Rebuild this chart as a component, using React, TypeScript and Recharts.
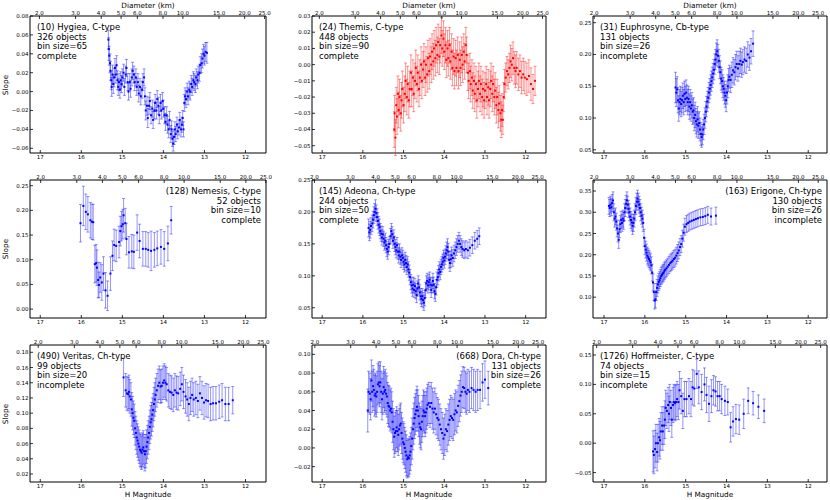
import React from 'react';
import { ScatterChart, Scatter, XAxis, YAxis, ErrorBar, ReferenceArea } from 'recharts';

// [H magnitude, slope, error]
type Pt = [number, number, number];

const H_TICKS = [17, 16, 15, 14, 13, 12];
const DIAMETER_TICKS = [2, 3, 4, 5, 6, 8, 10, 15, 20, 25];

const HYGIEA_TICKS = [-0.06, -0.04, -0.02, 0, 0.02, 0.04, 0.06, 0.08];
const THEMIS_TICKS = [-0.05, -0.04, -0.03, -0.02, -0.01, 0, 0.01, 0.02, 0.03];
const EUPHROSYNE_TICKS = [0.05, 0.1, 0.15, 0.2, 0.25];
const NEMESIS_TICKS = [0, 0.05, 0.1, 0.15, 0.2, 0.25];
const ADEONA_TICKS = [0.05, 0.1, 0.15, 0.2, 0.25];
const ERIGONE_TICKS = [0.1, 0.15, 0.2, 0.25, 0.3, 0.35];
const VERITAS_TICKS = [0.02, 0.04, 0.06, 0.08, 0.1, 0.12, 0.14, 0.16, 0.18];
const DORA_TICKS = [-0.02, 0, 0.02, 0.04, 0.06, 0.08, 0.1];
const HOFFMEISTER_TICKS = [-0.05, 0, 0.05, 0.1, 0.15];

const hygiea: Pt[] = [
  [15.34,0.055,0.01],[15.33,0.045,0.012],[15.32,0.038,0.01],[15.30,0.030,0.01],[15.29,0.022,0.01],[15.27,0.012,0.01],
  [15.26,0.005,0.01],[15.24,0.018,0.01],[15.22,0.008,0.01],[15.20,0.015,0.01],[15.18,0.025,0.01],[15.16,0.018,0.009],
  [15.14,0.028,0.01],[15.12,0.012,0.01],[15.10,0.005,0.009],[15.08,0.010,0.009],[15.06,0.002,0.009],[15.04,0.012,0.009],
  [15.02,0.008,0.009],[15.00,0.015,0.009],[14.97,0.020,0.009],[14.95,0.005,0.009],[14.92,0.018,0.009],[14.90,0.025,0.009],
  [14.87,0.010,0.009],[14.85,0.000,0.009],[14.82,0.010,0.009],[14.80,0.003,0.009],[14.77,0.015,0.009],[14.75,0.022,0.009],
  [14.72,0.018,0.009],[14.70,0.010,0.009],[14.67,0.015,0.009],[14.65,0.005,0.009],[14.62,0.010,0.009],[14.60,-0.002,0.009],
  [14.57,0.005,0.009],[14.55,-0.005,0.009],[14.52,0.002,0.009],[14.50,0.010,0.009],[14.47,0.015,0.009],[14.45,-0.005,0.009],
  [14.43,-0.020,0.01],[14.40,-0.015,0.01],[14.38,-0.028,0.01],[14.35,-0.015,0.009],[14.33,-0.010,0.009],[14.30,-0.025,0.009],
  [14.27,-0.018,0.009],[14.25,-0.030,0.009],[14.22,-0.020,0.009],[14.20,-0.012,0.009],[14.17,-0.020,0.009],[14.15,-0.008,0.009],
  [14.12,-0.015,0.009],[14.10,-0.025,0.009],[14.07,-0.012,0.009],[14.05,-0.020,0.009],[14.02,-0.010,0.009],[14.00,-0.018,0.009],
  [13.97,-0.025,0.009],[13.95,-0.032,0.009],[13.92,-0.025,0.009],[13.90,-0.035,0.009],[13.87,-0.040,0.009],[13.85,-0.030,0.009],
  [13.82,-0.045,0.009],[13.80,-0.040,0.009],[13.78,-0.050,0.008],[13.76,-0.055,0.008],[13.74,-0.048,0.008],[13.72,-0.040,0.008],
  [13.70,-0.045,0.008],[13.67,-0.035,0.008],[13.65,-0.042,0.008],[13.62,-0.038,0.008],[13.60,-0.030,0.008],[13.57,-0.040,0.008],
  [13.55,-0.035,0.008],[13.53,-0.028,0.008],[13.51,-0.040,0.008],[13.49,-0.012,0.009],[13.47,-0.005,0.009],[13.45,-0.008,0.009],
  [13.42,0.000,0.009],[13.40,-0.005,0.009],[13.37,0.002,0.009],[13.35,0.000,0.009],[13.32,0.008,0.009],[13.30,0.005,0.009],
  [13.27,0.012,0.009],[13.25,0.010,0.009],[13.22,0.008,0.009],[13.20,0.015,0.009],[13.17,0.012,0.009],[13.15,0.018,0.009],
  [13.12,0.020,0.009],[13.10,0.028,0.009],[13.07,0.030,0.01],[13.05,0.035,0.01],[13.02,0.040,0.01],[13.00,0.038,0.01],
  [12.97,0.042,0.01],[12.94,0.041,0.011],
];

const themis: Pt[] = [
  [15.23,-0.040,0.011],[15.22,-0.030,0.011],[15.20,-0.045,0.011],[15.18,-0.025,0.011],[15.16,-0.032,0.011],[15.14,-0.018,0.011],
  [15.12,-0.028,0.011],[15.10,-0.020,0.011],[15.07,-0.030,0.011],[15.05,-0.022,0.011],[15.03,-0.015,0.011],[15.00,-0.025,0.011],
  [14.97,-0.018,0.011],[14.95,-0.010,0.011],[14.92,-0.020,0.011],[14.90,-0.012,0.011],[14.87,-0.022,0.011],[14.85,-0.015,0.011],
  [14.82,-0.005,0.011],[14.80,-0.015,0.011],[14.77,-0.008,0.011],[14.75,-0.018,0.011],[14.72,-0.010,0.011],[14.70,-0.002,0.011],
  [14.67,-0.012,0.011],[14.65,-0.005,0.011],[14.62,-0.015,0.011],[14.60,-0.008,0.011],[14.57,0.000,0.011],[14.55,-0.010,0.011],
  [14.52,-0.003,0.011],[14.50,0.002,0.011],[14.47,-0.008,0.011],[14.45,0.000,0.011],[14.42,-0.006,0.011],[14.40,0.004,0.011],
  [14.37,-0.004,0.011],[14.35,0.005,0.011],[14.32,0.000,0.011],[14.30,0.008,0.011],[14.27,0.002,0.011],[14.25,0.010,0.011],
  [14.22,0.004,0.011],[14.20,0.012,0.011],[14.17,0.006,0.011],[14.15,0.014,0.011],[14.12,0.005,0.011],[14.10,0.012,0.011],
  [14.07,0.018,0.011],[14.05,0.010,0.011],[14.02,0.016,0.011],[14.00,0.008,0.011],[13.97,0.012,0.011],[13.95,0.003,0.011],
  [13.92,0.010,0.011],[13.90,0.004,0.011],[13.87,0.012,0.011],[13.85,0.002,0.011],[13.82,0.008,0.011],[13.80,-0.002,0.011],
  [13.77,0.005,0.011],[13.75,-0.004,0.011],[13.72,0.004,0.011],[13.70,-0.002,0.011],[13.67,0.006,0.011],[13.65,-0.004,0.011],
  [13.62,0.003,0.011],[13.60,-0.002,0.011],[13.57,0.006,0.011],[13.55,0.000,0.011],[13.52,0.008,0.011],[13.50,0.002,0.011],
  [13.47,0.012,0.011],[13.45,0.006,0.011],[13.42,-0.005,0.011],[13.40,-0.010,0.011],[13.37,-0.004,0.011],[13.35,-0.012,0.011],
  [13.32,-0.008,0.011],[13.30,-0.016,0.011],[13.27,-0.010,0.011],[13.25,-0.018,0.011],[13.22,-0.012,0.011],[13.20,-0.022,0.011],
  [13.17,-0.015,0.011],[13.15,-0.010,0.011],[13.12,-0.018,0.011],[13.10,-0.012,0.011],[13.07,-0.020,0.011],[13.05,-0.015,0.011],
  [13.02,-0.022,0.011],[13.00,-0.016,0.011],[12.97,-0.012,0.011],[12.95,-0.020,0.011],[12.92,-0.014,0.011],[12.90,-0.022,0.011],
  [12.87,-0.015,0.011],[12.85,-0.010,0.011],[12.82,-0.018,0.011],[12.80,-0.012,0.011],[12.77,-0.020,0.011],[12.75,-0.016,0.011],
  [12.72,-0.025,0.011],[12.70,-0.020,0.011],[12.67,-0.028,0.011],[12.65,-0.024,0.011],[12.62,-0.030,0.011],[12.60,-0.034,0.011],
  [12.58,-0.028,0.01],[12.56,-0.034,0.009],[12.54,-0.020,0.009],[12.52,-0.012,0.009],[12.49,-0.008,0.009],[12.46,-0.004,0.009],
  [12.43,-0.006,0.009],[12.40,-0.002,0.009],[12.37,0.002,0.01],[12.34,0.000,0.01],[12.31,0.004,0.01],[12.28,-0.002,0.01],
  [12.25,-0.004,0.01],[12.22,-0.002,0.01],[12.18,-0.006,0.01],[12.14,-0.004,0.01],[12.10,-0.008,0.01],[12.06,-0.006,0.01],
  [12.02,-0.008,0.01],[11.97,-0.009,0.01],[11.92,-0.007,0.01],[11.87,-0.012,0.01],[11.82,-0.015,0.009],[11.77,-0.010,0.009],
];

const euphrosyne: Pt[] = [
  [15.25,0.148,0.024],[15.23,0.140,0.022],[15.21,0.145,0.02],[15.19,0.128,0.02],[15.17,0.115,0.02],[15.15,0.125,0.02],
  [15.13,0.130,0.02],[15.11,0.122,0.02],[15.09,0.128,0.02],[15.07,0.135,0.02],[15.05,0.125,0.02],[15.03,0.138,0.02],
  [15.01,0.130,0.02],[14.99,0.140,0.02],[14.97,0.132,0.02],[14.95,0.125,0.02],[14.93,0.130,0.02],[14.91,0.118,0.02],
  [14.89,0.125,0.02],[14.87,0.115,0.02],[14.85,0.120,0.02],[14.83,0.110,0.02],[14.81,0.112,0.02],[14.79,0.100,0.02],
  [14.77,0.105,0.02],[14.75,0.095,0.02],[14.73,0.090,0.02],[14.71,0.098,0.02],[14.69,0.088,0.02],[14.67,0.092,0.018],
  [14.65,0.082,0.018],[14.63,0.075,0.018],[14.61,0.070,0.016],[14.59,0.074,0.016],[14.57,0.082,0.016],[14.55,0.090,0.016],
  [14.53,0.100,0.016],[14.51,0.110,0.016],[14.49,0.118,0.016],[14.47,0.126,0.016],[14.45,0.132,0.016],[14.43,0.140,0.016],
  [14.41,0.146,0.016],[14.39,0.152,0.016],[14.37,0.158,0.016],[14.35,0.164,0.016],[14.33,0.170,0.016],[14.31,0.176,0.016],
  [14.29,0.185,0.016],[14.27,0.192,0.016],[14.25,0.200,0.018],[14.23,0.205,0.018],[14.21,0.198,0.018],[14.19,0.190,0.018],
  [14.17,0.180,0.018],[14.15,0.172,0.018],[14.13,0.162,0.018],[14.11,0.158,0.018],[14.09,0.150,0.018],[14.07,0.146,0.018],
  [14.05,0.140,0.018],[14.03,0.135,0.018],[14.01,0.128,0.018],[13.99,0.140,0.018],[13.97,0.150,0.018],[13.95,0.160,0.018],
  [13.93,0.165,0.018],[13.90,0.160,0.02],[13.87,0.168,0.02],[13.84,0.175,0.02],[13.81,0.172,0.02],[13.78,0.180,0.02],
  [13.75,0.185,0.02],[13.72,0.178,0.02],[13.69,0.185,0.02],[13.66,0.190,0.02],[13.63,0.184,0.02],[13.60,0.188,0.02],
  [13.56,0.192,0.02],[13.52,0.190,0.02],[13.48,0.200,0.02],[13.44,0.195,0.02],[13.40,0.205,0.02],[13.35,0.217,0.02],
];

const nemesis: Pt[] = [
  [16.02,0.174,0.038],[15.95,0.209,0.040],[15.89,0.197,0.036],[15.84,0.192,0.036],[15.78,0.180,0.036],[15.74,0.177,0.036],
  [15.71,0.176,0.036],[15.67,0.091,0.038],[15.64,0.093,0.038],[15.62,0.084,0.036],[15.59,0.059,0.036],[15.57,0.049,0.026],
  [15.54,0.064,0.030],[15.50,0.054,0.036],[15.46,0.072,0.034],[15.41,0.038,0.036],[15.36,0.027,0.030],[15.29,0.072,0.034],
  [15.24,0.108,0.030],[15.20,0.130,0.032],[15.15,0.128,0.032],[15.08,0.136,0.032],[15.05,0.158,0.030],[15.02,0.168,0.030],
  [14.99,0.172,0.030],[14.97,0.190,0.034],[14.93,0.174,0.030],[14.90,0.142,0.032],[14.84,0.115,0.032],[14.77,0.117,0.034],
  [14.72,0.116,0.034],[14.64,0.155,0.036],[14.58,0.138,0.034],[14.50,0.122,0.035],[14.43,0.122,0.035],[14.37,0.120,0.035],
  [14.30,0.118,0.040],[14.22,0.120,0.035],[14.15,0.123,0.035],[14.06,0.126,0.035],[13.98,0.122,0.035],[13.89,0.133,0.035],
  [13.81,0.180,0.028],
];

const adeona: Pt[] = [
  [15.86,0.175,0.014],[15.84,0.168,0.013],[15.82,0.172,0.013],[15.80,0.178,0.013],[15.77,0.182,0.013],[15.75,0.188,0.013],
  [15.73,0.195,0.013],[15.71,0.200,0.013],[15.69,0.205,0.014],[15.67,0.198,0.013],[15.65,0.192,0.013],[15.63,0.186,0.013],
  [15.61,0.180,0.013],[15.59,0.176,0.013],[15.57,0.170,0.012],[15.55,0.166,0.012],[15.53,0.160,0.012],[15.51,0.165,0.012],
  [15.49,0.158,0.012],[15.47,0.152,0.012],[15.45,0.155,0.012],[15.43,0.148,0.012],[15.41,0.142,0.012],[15.39,0.138,0.012],
  [15.37,0.145,0.012],[15.35,0.150,0.012],[15.32,0.162,0.012],[15.30,0.170,0.012],[15.28,0.165,0.012],[15.26,0.155,0.012],
  [15.24,0.160,0.012],[15.22,0.150,0.012],[15.20,0.145,0.012],[15.18,0.140,0.012],[15.16,0.148,0.012],[15.14,0.138,0.012],
  [15.12,0.132,0.012],[15.10,0.138,0.012],[15.08,0.130,0.012],[15.06,0.125,0.012],[15.04,0.132,0.012],[15.02,0.128,0.012],
  [15.00,0.122,0.012],[14.98,0.118,0.012],[14.96,0.125,0.012],[14.94,0.120,0.012],[14.92,0.114,0.012],[14.90,0.118,0.012],
  [14.88,0.110,0.012],[14.86,0.105,0.012],[14.84,0.098,0.012],[14.82,0.090,0.012],[14.80,0.085,0.012],[14.78,0.080,0.012],
  [14.76,0.086,0.012],[14.74,0.078,0.012],[14.72,0.084,0.012],[14.70,0.076,0.012],[14.68,0.070,0.012],[14.66,0.080,0.012],
  [14.64,0.088,0.012],[14.62,0.082,0.012],[14.60,0.074,0.012],[14.58,0.068,0.012],[14.56,0.064,0.012],[14.54,0.068,0.012],
  [14.52,0.062,0.012],[14.50,0.058,0.012],[14.48,0.065,0.012],[14.46,0.078,0.012],[14.44,0.088,0.012],[14.42,0.092,0.012],
  [14.40,0.085,0.012],[14.38,0.090,0.012],[14.36,0.094,0.012],[14.34,0.086,0.012],[14.32,0.078,0.012],[14.30,0.085,0.012],
  [14.28,0.092,0.012],[14.26,0.086,0.012],[14.24,0.076,0.012],[14.22,0.072,0.012],[14.20,0.082,0.012],[14.18,0.094,0.012],
  [14.16,0.098,0.012],[14.14,0.104,0.012],[14.12,0.110,0.012],[14.10,0.106,0.012],[14.08,0.114,0.012],[14.06,0.118,0.012],
  [14.04,0.122,0.012],[14.02,0.128,0.012],[14.00,0.124,0.012],[13.98,0.130,0.012],[13.96,0.135,0.012],[13.94,0.140,0.013],
  [13.92,0.145,0.013],[13.90,0.138,0.013],[13.88,0.125,0.013],[13.86,0.120,0.013],[13.84,0.126,0.013],[13.82,0.132,0.013],
  [13.79,0.128,0.013],[13.76,0.135,0.013],[13.73,0.140,0.013],[13.70,0.145,0.013],[13.67,0.150,0.013],[13.64,0.155,0.013],
  [13.61,0.150,0.013],[13.58,0.145,0.013],[13.55,0.142,0.013],[13.51,0.140,0.013],[13.47,0.142,0.013],[13.42,0.140,0.013],
  [13.37,0.144,0.013],[13.31,0.148,0.013],[13.25,0.155,0.013],[13.19,0.158,0.013],[13.14,0.162,0.013],
];

const erigone: Pt[] = [
  [16.88,0.315,0.02],[16.86,0.310,0.02],[16.84,0.318,0.02],[16.82,0.312,0.02],[16.80,0.322,0.02],[16.78,0.328,0.02],
  [16.76,0.300,0.02],[16.74,0.285,0.02],[16.72,0.290,0.02],[16.70,0.278,0.02],[16.68,0.262,0.02],[16.66,0.250,0.02],
  [16.64,0.235,0.02],[16.62,0.260,0.02],[16.60,0.272,0.02],[16.58,0.282,0.02],[16.56,0.275,0.02],[16.54,0.285,0.02],
  [16.52,0.280,0.02],[16.50,0.300,0.02],[16.48,0.310,0.02],[16.46,0.320,0.02],[16.44,0.328,0.02],[16.42,0.318,0.02],
  [16.40,0.308,0.02],[16.38,0.300,0.02],[16.36,0.290,0.02],[16.34,0.282,0.02],[16.32,0.276,0.02],[16.30,0.268,0.02],
  [16.28,0.275,0.02],[16.26,0.285,0.02],[16.24,0.300,0.02],[16.22,0.315,0.02],[16.20,0.325,0.02],[16.18,0.332,0.02],
  [16.16,0.325,0.02],[16.14,0.318,0.02],[16.12,0.310,0.02],[16.10,0.300,0.02],[16.08,0.292,0.02],[16.06,0.285,0.02],
  [16.04,0.275,0.02],[16.02,0.240,0.02],[16.00,0.220,0.02],[15.98,0.212,0.02],[15.96,0.205,0.02],[15.94,0.198,0.02],
  [15.92,0.194,0.02],[15.90,0.190,0.02],[15.88,0.186,0.02],[15.86,0.182,0.02],[15.84,0.175,0.02],[15.82,0.158,0.02],
  [15.80,0.135,0.02],[15.78,0.112,0.02],[15.76,0.092,0.02],[15.74,0.095,0.02],[15.72,0.112,0.02],[15.70,0.122,0.02],
  [15.68,0.130,0.02],[15.66,0.136,0.02],[15.64,0.140,0.02],[15.62,0.145,0.02],[15.60,0.150,0.02],[15.58,0.153,0.02],
  [15.56,0.156,0.02],[15.54,0.158,0.02],[15.52,0.162,0.02],[15.50,0.165,0.02],[15.47,0.168,0.02],[15.44,0.172,0.02],
  [15.41,0.176,0.02],[15.38,0.180,0.02],[15.35,0.183,0.02],[15.32,0.186,0.02],[15.29,0.190,0.02],[15.26,0.193,0.02],
  [15.23,0.198,0.02],[15.20,0.204,0.02],[15.17,0.210,0.02],[15.14,0.218,0.02],[15.11,0.225,0.02],[15.08,0.238,0.02],
  [15.05,0.252,0.02],[15.02,0.266,0.02],[14.98,0.272,0.02],[14.94,0.275,0.02],[14.90,0.278,0.02],[14.85,0.280,0.02],
  [14.80,0.282,0.02],[14.75,0.284,0.02],[14.70,0.286,0.02],[14.64,0.288,0.02],[14.58,0.289,0.02],[14.52,0.291,0.02],
  [14.46,0.294,0.02],[14.38,0.290,0.02],[14.26,0.292,0.02],
];

const veritas: Pt[] = [
  [14.97,0.147,0.025],[14.92,0.130,0.022],[14.89,0.126,0.022],[14.86,0.125,0.022],[14.84,0.128,0.022],[14.82,0.122,0.022],
  [14.79,0.118,0.022],[14.77,0.105,0.022],[14.75,0.100,0.022],[14.73,0.094,0.022],[14.71,0.090,0.022],[14.69,0.080,0.022],
  [14.67,0.074,0.022],[14.65,0.068,0.022],[14.63,0.064,0.022],[14.61,0.060,0.022],[14.59,0.056,0.022],[14.57,0.052,0.022],
  [14.55,0.050,0.022],[14.53,0.048,0.022],[14.51,0.052,0.022],[14.49,0.055,0.022],[14.47,0.050,0.022],[14.45,0.046,0.022],
  [14.43,0.050,0.022],[14.41,0.056,0.022],[14.39,0.062,0.022],[14.37,0.068,0.022],[14.35,0.074,0.022],[14.33,0.082,0.022],
  [14.31,0.088,0.022],[14.29,0.092,0.022],[14.27,0.098,0.022],[14.25,0.104,0.022],[14.23,0.112,0.022],[14.21,0.118,0.022],
  [14.19,0.124,0.022],[14.16,0.130,0.022],[14.13,0.136,0.022],[14.10,0.140,0.022],[14.07,0.135,0.022],[14.04,0.136,0.022],
  [14.01,0.140,0.022],[13.98,0.143,0.022],[13.95,0.140,0.022],[13.92,0.138,0.022],[13.88,0.130,0.022],[13.84,0.128,0.022],
  [13.80,0.127,0.022],[13.76,0.124,0.022],[13.72,0.130,0.022],[13.68,0.127,0.022],[13.64,0.126,0.022],[13.59,0.132,0.022],
  [13.55,0.138,0.022],[13.51,0.128,0.022],[13.46,0.122,0.022],[13.42,0.118,0.022],[13.38,0.112,0.022],[13.34,0.120,0.022],
  [13.30,0.124,0.022],[13.26,0.118,0.022],[13.21,0.120,0.022],[13.16,0.116,0.022],[13.11,0.126,0.022],[13.06,0.120,0.022],
  [13.01,0.114,0.022],[12.96,0.117,0.022],[12.91,0.116,0.022],[12.85,0.112,0.022],[12.79,0.113,0.022],[12.72,0.113,0.022],
  [12.64,0.115,0.022],[12.57,0.117,0.022],[12.49,0.112,0.022],[12.41,0.112,0.022],[12.31,0.117,0.018],
];

const dora: Pt[] = [
  [15.88,0.040,0.023],[15.86,0.060,0.022],[15.83,0.058,0.022],[15.81,0.052,0.022],[15.79,0.072,0.022],[15.77,0.060,0.022],
  [15.75,0.066,0.022],[15.73,0.062,0.022],[15.71,0.056,0.022],[15.69,0.058,0.022],[15.67,0.055,0.022],[15.65,0.060,0.022],
  [15.63,0.068,0.022],[15.61,0.070,0.022],[15.59,0.066,0.022],[15.57,0.070,0.022],[15.55,0.060,0.022],[15.53,0.052,0.022],
  [15.51,0.058,0.022],[15.49,0.065,0.022],[15.47,0.060,0.022],[15.45,0.062,0.022],[15.43,0.058,0.022],[15.41,0.055,0.022],
  [15.39,0.048,0.022],[15.37,0.045,0.022],[15.35,0.044,0.022],[15.33,0.040,0.022],[15.31,0.042,0.022],[15.29,0.038,0.022],
  [15.27,0.028,0.022],[15.25,0.020,0.022],[15.23,0.012,0.022],[15.21,0.016,0.022],[15.19,0.018,0.022],[15.17,0.022,0.022],
  [15.15,0.018,0.022],[15.13,0.014,0.022],[15.11,0.020,0.022],[15.09,0.024,0.022],[15.07,0.026,0.022],[15.05,0.016,0.022],
  [15.03,0.010,0.022],[15.01,0.006,0.022],[14.99,0.004,0.022],[14.97,0.000,0.022],[14.95,-0.004,0.022],[14.93,-0.008,0.022],
  [14.91,-0.012,0.02],[14.89,-0.010,0.02],[14.87,-0.011,0.02],[14.85,-0.008,0.02],[14.83,-0.004,0.02],[14.81,0.002,0.02],
  [14.79,0.010,0.022],[14.77,0.020,0.022],[14.75,0.026,0.022],[14.73,0.032,0.022],[14.71,0.036,0.022],[14.69,0.040,0.022],
  [14.67,0.044,0.022],[14.65,0.040,0.022],[14.63,0.034,0.022],[14.61,0.026,0.022],[14.59,0.022,0.022],[14.57,0.020,0.022],
  [14.55,0.028,0.022],[14.53,0.034,0.022],[14.51,0.040,0.022],[14.49,0.038,0.022],[14.47,0.034,0.022],[14.45,0.038,0.022],
  [14.43,0.042,0.022],[14.41,0.046,0.022],[14.38,0.048,0.022],[14.35,0.044,0.022],[14.32,0.048,0.022],[14.29,0.042,0.022],
  [14.26,0.038,0.022],[14.23,0.042,0.022],[14.20,0.036,0.022],[14.17,0.032,0.022],[14.14,0.030,0.022],[14.11,0.025,0.022],
  [14.08,0.020,0.022],[14.05,0.016,0.022],[14.02,0.010,0.022],[13.99,0.014,0.022],[13.96,0.020,0.022],[13.93,0.018,0.022],
  [13.90,0.025,0.022],[13.87,0.030,0.022],[13.84,0.034,0.022],[13.81,0.032,0.022],[13.78,0.030,0.022],[13.75,0.036,0.022],
  [13.72,0.040,0.022],[13.69,0.038,0.022],[13.66,0.045,0.022],[13.63,0.050,0.022],[13.60,0.056,0.022],[13.57,0.060,0.022],
  [13.54,0.065,0.022],[13.51,0.064,0.022],[13.48,0.060,0.022],[13.45,0.058,0.022],[13.42,0.062,0.022],[13.38,0.060,0.022],
  [13.33,0.064,0.022],[13.28,0.062,0.022],[13.23,0.060,0.022],[13.18,0.062,0.022],[13.12,0.062,0.02],[13.06,0.070,0.02],
  [13.00,0.073,0.02],[12.92,0.064,0.018],
];

const hoffmeister: Pt[] = [
  [15.80,-0.014,0.035],[15.78,-0.020,0.032],[15.75,-0.010,0.032],[15.73,0.000,0.032],[15.70,-0.015,0.032],[15.68,0.000,0.032],
  [15.65,0.010,0.032],[15.63,0.005,0.032],[15.61,0.020,0.032],[15.58,0.030,0.032],[15.56,0.020,0.032],[15.53,0.030,0.032],
  [15.51,0.040,0.032],[15.49,0.060,0.030],[15.46,0.055,0.030],[15.43,0.065,0.030],[15.41,0.050,0.030],[15.39,0.070,0.030],
  [15.36,0.060,0.030],[15.34,0.040,0.030],[15.31,0.065,0.030],[15.29,0.070,0.030],[15.26,0.068,0.030],[15.24,0.070,0.030],
  [15.21,0.075,0.030],[15.18,0.070,0.030],[15.15,0.090,0.032],[15.11,0.080,0.030],[15.07,0.055,0.030],[15.03,0.075,0.030],
  [14.98,0.075,0.030],[14.92,0.080,0.030],[14.87,0.075,0.030],[14.83,0.095,0.030],[14.79,0.093,0.030],[14.73,0.118,0.025],
  [14.68,0.095,0.028],[14.61,0.087,0.030],[14.54,0.100,0.028],[14.49,0.082,0.030],[14.43,0.067,0.030],[14.37,0.080,0.028],
  [14.32,0.090,0.025],[14.27,0.088,0.025],[14.22,0.080,0.025],[14.17,0.080,0.025],[14.12,0.075,0.025],[14.04,0.072,0.025],
  [13.97,0.070,0.022],[13.90,0.027,0.025],[13.84,0.037,0.025],[13.77,0.041,0.025],[13.69,0.040,0.025],[13.58,0.050,0.025],
  [13.47,0.072,0.022],[13.35,0.068,0.020],[13.22,0.062,0.020],[13.08,0.055,0.020],
];

const FONT = '"DejaVu Sans", sans-serif';
const BLUE = '#0000ff';
const RED = '#ff0000';

// plot boxes in page pixels
const COL_X = [[30, 266], [312, 546], [593, 827]];
const COL_DOMAIN: [number, number][] = [[11.5, 17.25], [11.5, 17.25], [11.54, 17.27]];
const ROW_Y = [[16, 153], [180, 318], [345, 482]];

const PANELS = [
  { row: 0, col: 0, points: hygiea, yDomain: [-0.065, 0.08], yTicks: HYGIEA_TICKS, h0: 17.02, color: BLUE, align: 'left',
    label: ['(10) Hygiea, C-type', '326 objects', 'bin size=65', 'complete'] },
  { row: 0, col: 1, points: themis, yDomain: [-0.0545, 0.03], yTicks: THEMIS_TICKS, h0: 17.07, color: RED, align: 'left',
    label: ['(24) Themis, C-type', '448 objects', 'bin size=90', 'complete'] },
  { row: 0, col: 2, points: euphrosyne, yDomain: [0.045, 0.2605], yTicks: EUPHROSYNE_TICKS, h0: 17.24, color: BLUE, align: 'left',
    label: ['(31) Euphrosyne, Cb-type', '131 objects', 'bin size=26', 'incomplete'] },
  { row: 1, col: 0, points: nemesis, yDomain: [-0.018, 0.2615], yTicks: NEMESIS_TICKS, h0: 16.99, color: BLUE, align: 'right',
    label: ['(128) Nemesis, C-type', '52 objects', 'bin size=10', 'complete'] },
  { row: 1, col: 1, points: adeona, yDomain: [0.034, 0.25], yTicks: ADEONA_TICKS, h0: 17.19, color: BLUE, align: 'left',
    label: ['(145) Adeona, Ch-type', '244 objects', 'bin size=50', 'complete'] },
  { row: 1, col: 2, points: erigone, yDomain: [0.051, 0.376], yTicks: ERIGONE_TICKS, h0: 17.24, color: BLUE, align: 'right',
    label: ['(163) Erigone, Ch-type', '130 objects', 'bin size=26', 'incomplete'] },
  { row: 2, col: 0, points: veritas, yDomain: [0.0095, 0.1896], yTicks: VERITAS_TICKS, h0: 17.05, color: BLUE, align: 'left',
    label: ['(490) Veritas, Ch-type', '99 objects', 'bin size=20', 'incomplete'] },
  { row: 2, col: 1, points: dora, yDomain: [-0.0364, 0.11], yTicks: DORA_TICKS, h0: 17.18, color: BLUE, align: 'right',
    label: ['(668) Dora, Ch-type', '131 objects', 'bin size=26', 'complete'] },
  { row: 2, col: 2, points: hoffmeister, yDomain: [-0.066, 0.167], yTicks: HOFFMEISTER_TICKS, h0: 17.18, color: BLUE, align: 'left',
    label: ['(1726) Hoffmeister, C-type', '74 objects', 'bin size=15', 'incomplete'] },
];

const PAD_L = 32;
const PAD_T = 18;
const PAD_B = 18;
const PAD_R = 12;
const TICK_FS = 5.5;

const bottomTick = (props: any) => {
  const { x, y, payload } = props;
  return (
    <g>
      <line x1={x} x2={x} y1={y} y2={y - 3} stroke="#000" strokeWidth={0.8} />
      <text x={x} y={y + 5.8} textAnchor="middle" fontSize={TICK_FS} fontFamily={FONT} fill="#000">{payload.value}</text>
    </g>
  );
};

const makeTopTick = (h0: number) => (props: any) => {
  const { x, y, payload } = props;
  const d = 2 * Math.pow(10, (h0 - payload.value) / 5);
  return (
    <g>
      <line x1={x} x2={x} y1={y} y2={y + 3} stroke="#000" strokeWidth={0.8} />
      <text x={x} y={y - 1.5} textAnchor="middle" fontSize={TICK_FS} fontFamily={FONT} fill="#000">{d.toFixed(1)}</text>
    </g>
  );
};

const leftTick = (props: any) => {
  const { x, y, payload } = props;
  const label = Number(payload.value).toFixed(2).replace('-', '\u2212');
  return (
    <g>
      <line x1={x} x2={x + 3} y1={y} y2={y} stroke="#000" strokeWidth={0.8} />
      <text x={x - 1.5} y={y + 2} textAnchor="end" fontSize={TICK_FS} fontFamily={FONT} fill="#000">{label}</text>
    </g>
  );
};

const noShape = () => <g />;

function Panel({ cfg }: { cfg: typeof PANELS[number] }) {
  const [x0, x1] = COL_X[cfg.col];
  const [y0, y1] = ROW_Y[cfg.row];
  const xDomain = COL_DOMAIN[cfg.col];
  const data = cfg.points.map(([h, s, e]) => ({ h, s, e }));
  const diamTicks = DIAMETER_TICKS.map((d) => cfg.h0 - 5 * Math.log10(d / 2));
  const dot = (p: any) => <rect x={p.cx - 1} y={p.cy - 1} width={2} height={2} fill={cfg.color} />;

  return (
    <div style={{ position: 'absolute', left: x0 - PAD_L, top: y0 - PAD_T }}>
      <ScatterChart
        width={x1 - x0 + PAD_L + PAD_R}
        height={y1 - y0 + PAD_T + PAD_B}
        margin={{ top: 0, right: PAD_R, bottom: 0, left: 0 }}
      >
        <XAxis
          xAxisId="h" dataKey="h" type="number" domain={xDomain} reversed allowDataOverflow
          ticks={H_TICKS} interval={0} height={PAD_B} axisLine={false} tickLine={false}
          tickSize={0} tickMargin={0} tick={bottomTick}
        />
        <XAxis
          xAxisId="d" dataKey="h" orientation="top" type="number" domain={xDomain} reversed allowDataOverflow
          ticks={diamTicks} interval={0} height={PAD_T} axisLine={false} tickLine={false}
          tickSize={0} tickMargin={0} tick={makeTopTick(cfg.h0)}
        />
        <YAxis
          yAxisId="s" dataKey="s" type="number" domain={cfg.yDomain} allowDataOverflow
          ticks={cfg.yTicks} interval={0} width={PAD_L} axisLine={false} tickLine={false}
          tickSize={0} tickMargin={0} tick={leftTick}
        />
        {/* carries the top diameter axis, draws nothing */}
        <Scatter xAxisId="d" yAxisId="s" data={data} isAnimationActive={false} shape={noShape} />
        <Scatter xAxisId="h" yAxisId="s" data={data} isAnimationActive={false} shape={dot}>
          <ErrorBar dataKey="e" direction="y" width={1.5} stroke={cfg.color} strokeOpacity={0.42} strokeWidth={1} />
        </Scatter>
        <ReferenceArea
          xAxisId="h" yAxisId="s" x1={xDomain[0]} x2={xDomain[1]} y1={cfg.yDomain[0]} y2={cfg.yDomain[1]}
          fill="none" stroke="#000" strokeWidth={1} fillOpacity={0}
        />
      </ScatterChart>
      <div
        style={{
          position: 'absolute',
          top: PAD_T + 7,
          left: cfg.align === 'left' ? PAD_L + 7 : undefined,
          right: cfg.align === 'right' ? PAD_R + 5 : undefined,
          textAlign: cfg.align as any,
          fontFamily: FONT,
          fontSize: 8.5,
          lineHeight: '9.5px',
          color: '#000',
          whiteSpace: 'nowrap',
        }}
      >
        {cfg.label.map((line) => <div key={line}>{line}</div>)}
      </div>
    </div>
  );
}

const axisTitle: React.CSSProperties = {
  position: 'absolute',
  fontFamily: FONT,
  fontSize: 7.3,
  whiteSpace: 'nowrap',
  color: '#000',
};

export default function App() {
  return (
    <div style={{ position: 'absolute', left: 0, top: 0, width: 830, height: 500, background: '#fff', overflow: 'hidden' }}>
      {PANELS.map((p) => <Panel key={p.label[0]} cfg={p} />)}
      {COL_X.map(([a, b]) => (
        <React.Fragment key={a}>
          <div style={{ ...axisTitle, left: (a + b) / 2, top: 5, transform: 'translate(-50%, -50%)' }}>Diameter (km)</div>
          <div style={{ ...axisTitle, left: (a + b) / 2, top: 494, transform: 'translate(-50%, -50%)' }}>H Magnitude</div>
        </React.Fragment>
      ))}
      {ROW_Y.map(([a, b]) => (
        <div key={a} style={{ ...axisTitle, left: 5, top: (a + b) / 2, transform: 'translate(-50%, -50%) rotate(-90deg)' }}>Slope</div>
      ))}
    </div>
  );
}
